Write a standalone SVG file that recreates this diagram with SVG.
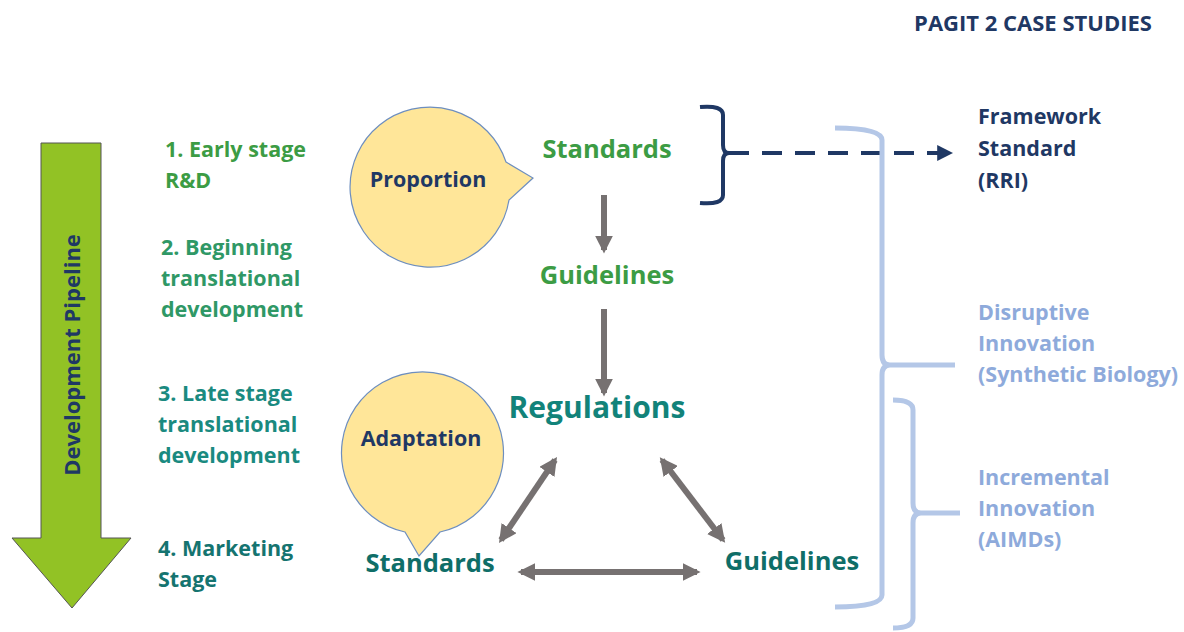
<svg xmlns="http://www.w3.org/2000/svg" width="1184" height="632" viewBox="0 0 1184 632">
<defs>
<style>
text{font-family:"Open Sans","Liberation Sans",sans-serif;font-weight:bold}
.lbl{font-size:21.5px}
.s1{fill:#3c9c44}
.s2{fill:#2f9866}
.s3{fill:#1a8a80}
.s4{fill:#157470}
.navy{fill:#1f3864}
.lb{fill:#8eaadb;font-size:21.5px}
.bubble{fill:#ffe699;stroke:#6d8ebf;stroke-width:1.2}
.gray{stroke:#767171;stroke-width:6;fill:none}
.lbr{fill:none;stroke:#b4c7e7;stroke-width:5}
</style>
<marker id="ah" viewBox="0 0 10 10" refX="8" refY="5" markerWidth="3" markerHeight="3" orient="auto-start-reverse" markerUnits="strokeWidth">
<path d="M0,0 L10,5 L0,10 z" fill="#767171"/>
</marker>
<marker id="ahn" viewBox="0 0 10 10" refX="8" refY="5" markerWidth="4" markerHeight="4" orient="auto" markerUnits="strokeWidth">
<path d="M0,0 L10,5 L0,10 z" fill="#1f3864"/>
</marker>
</defs>
<rect width="1184" height="632" fill="#ffffff"/>

<g id="title"><text x="1033" y="31" text-anchor="middle" class="navy" font-size="22">PAGIT 2 CASE STUDIES</text></g>

<g id="pipeline">
<path d="M41,143 L101,143 L101,538 L131,538 L72,608 L12,538 L41,538 Z" fill="#92c225" stroke="#555" stroke-width="1"/>
<text transform="translate(80,355) rotate(-90)" text-anchor="middle" class="navy" font-size="22">Development Pipeline</text>
</g>

<g id="stage1"><text class="lbl s1" x="165" y="157">1. Early stage</text><text class="lbl s1" x="165" y="188">R&amp;D</text></g>
<g id="stage2"><text class="lbl s2" x="161" y="255">2. Beginning</text><text class="lbl s2" x="161" y="286">translational</text><text class="lbl s2" x="161" y="317">development</text></g>
<g id="stage3"><text class="lbl s3" x="158" y="401">3. Late stage</text><text class="lbl s3" x="158" y="432">translational</text><text class="lbl s3" x="158" y="463">development</text></g>
<g id="stage4"><text class="lbl s4" x="158" y="556">4. Marketing</text><text class="lbl s4" x="158" y="587">Stage</text></g>

<g id="proportion">
<path class="bubble" d="M506,162 L533,178 L509,200 A80,80 0 1 1 506,162 Z"/>
<text x="428" y="187" text-anchor="middle" class="navy" font-size="21.5">Proportion</text>
</g>

<g id="adaptation">
<path class="bubble" d="M405,532 A81,81 0 1 1 440,532 L419,556 Z"/>
<text x="421" y="446" text-anchor="middle" class="navy" font-size="21.5">Adaptation</text>
</g>

<g id="standards-top"><text x="607" y="158" text-anchor="middle" fill="#3c9c44" font-size="25.5">Standards</text></g>
<g id="guidelines-top"><text x="607" y="284" text-anchor="middle" fill="#3c9c44" font-size="25.5">Guidelines</text></g>
<g id="regulations"><text x="597" y="418" text-anchor="middle" fill="#12837a" font-size="30">Regulations</text></g>
<g id="standards-bottom"><text x="430" y="572" text-anchor="middle" fill="#0f6e68" font-size="25.5">Standards</text></g>
<g id="guidelines-bottom"><text x="792" y="570" text-anchor="middle" fill="#0f6e68" font-size="25.5">Guidelines</text></g>

<g id="framework"><text class="lbl navy" x="978" y="124">Framework</text><text class="lbl navy" x="978" y="156">Standard</text><text class="lbl navy" x="978" y="188">(RRI)</text></g>
<g id="disruptive"><text class="lb" x="978" y="320">Disruptive</text><text class="lb" x="978" y="351">Innovation</text><text class="lb" x="978" y="382">(Synthetic Biology)</text></g>
<g id="incremental"><text class="lb" x="978" y="485">Incremental</text><text class="lb" x="978" y="516">Innovation</text><text class="lb" x="978" y="547">(AIMDs)</text></g>

<g id="connectors">
<line class="gray" x1="604" y1="195" x2="604" y2="250" marker-end="url(#ah)"/>
<line class="gray" x1="604" y1="309" x2="604" y2="393" stroke-width="7" marker-end="url(#ah)"/>
<line class="gray" x1="555" y1="460" x2="501" y2="540" marker-start="url(#ah)" marker-end="url(#ah)"/>
<line class="gray" x1="662" y1="460" x2="723" y2="540" marker-start="url(#ah)" marker-end="url(#ah)"/>
<line class="gray" x1="521" y1="572" x2="697" y2="572" marker-start="url(#ah)" marker-end="url(#ah)"/>
<path d="M700,107 Q723,105 723,115 L723,145 Q723,153 729,153 Q723,153 723,161 L723,195 Q723,205 700,203" fill="none" stroke="#1f3864" stroke-width="4"/>
<line x1="729" y1="153" x2="950" y2="153" stroke="#1f3864" stroke-width="4" stroke-dasharray="20,13" marker-end="url(#ahn)"/>
<path class="lbr" d="M835,128 Q882,128 882,140 L882,355 Q882,365 890,365 L955,365 M890,365 Q882,365 882,375 L882,595 Q882,607 835,607"/>
<path class="lbr" d="M893,400 Q913,400 913,410 L913,503 Q913,513 921,513 L960,513 M921,513 Q913,513 913,523 L913,618 Q913,628 893,628"/>
</g>
</svg>
